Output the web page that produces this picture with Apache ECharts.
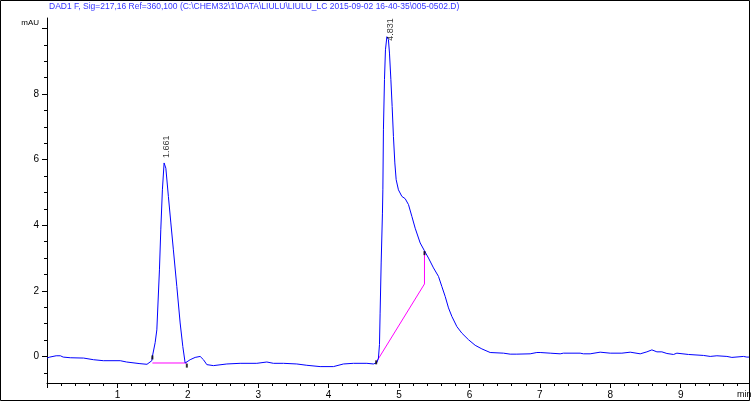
<!DOCTYPE html>
<html>
<head>
<meta charset="UTF-8">
<title>DAD1 F chromatogram</title>
<script src="https://cdn.jsdelivr.net/npm/echarts@6/dist/echarts.min.js"></script>
<style>
    html, body { margin: 0; padding: 0; background: #fff; }
    #main { width: 751px; height: 402px; }
</style>
</head>
<body>
<div id="main"></div>
<script>
// retention time (min) and detector signal (mAU)
var traceTime = [0.00,0.04,0.13,0.19,0.23,0.33,0.52,0.66,0.80,1.04,
    1.13,1.32,1.42,1.489,1.497,1.536,1.560,1.597,1.616,1.639,
    1.663,1.688,1.724,1.759,1.795,1.844,1.891,1.929,1.962,1.986,
    2.033,2.104,2.175,2.222,2.270,2.364,2.554,2.743,2.980,3.122,
    3.216,3.358,3.548,3.690,3.879,4.068,4.210,4.352,4.543,4.636,
    4.685,4.707,4.722,4.731,4.746,4.764,4.770,4.778,4.793,4.807,
    4.827,4.849,4.864,4.884,4.902,4.920,4.940,4.959,4.991,5.040,
    5.087,5.134,5.182,5.229,5.300,5.361,5.418,5.489,5.560,5.608,
    5.655,5.702,5.750,5.821,5.892,5.986,6.081,6.176,6.294,6.483,
    6.578,6.673,6.862,6.957,7.004,7.146,7.288,7.335,7.572,7.619,
    7.714,7.856,7.999,8.165,8.283,8.425,8.520,8.591,8.662,8.733,
    8.804,8.898,8.946,9.111,9.324,9.419,9.514,9.656,9.727,9.892,
    9.940,9.973];
var traceSignal = [-0.05,-0.02,0.02,0.02,-0.02,-0.04,-0.05,-0.10,-0.13,-0.13,
    -0.17,-0.22,-0.24,-0.13,0.00,0.42,0.81,2.64,3.86,5.08,
    5.90,5.74,4.88,4.07,3.25,2.13,1.02,0.30,-0.20,-0.25,
    -0.10,-0.03,0.00,-0.10,-0.25,-0.28,-0.23,-0.21,-0.21,-0.17,
    -0.21,-0.21,-0.23,-0.27,-0.31,-0.31,-0.23,-0.21,-0.21,-0.23,
    -0.19,-0.05,0.36,1.32,2.85,4.37,5.08,6.91,8.44,9.35,
    9.75,9.66,9.25,8.44,7.62,6.71,5.90,5.39,5.08,4.88,
    4.81,4.63,4.27,3.91,3.46,3.22,3.00,2.70,2.44,2.13,
    1.83,1.48,1.22,0.91,0.71,0.51,0.34,0.23,0.12,0.10,
    0.07,0.07,0.08,0.12,0.12,0.10,0.08,0.10,0.10,0.08,
    0.08,0.13,0.10,0.10,0.13,0.08,0.14,0.20,0.14,0.14,
    0.09,0.06,0.10,0.06,0.03,0.00,0.02,0.00,-0.03,0.00,
    -0.02,-0.02];

// integration baselines (magenta)
var base1Time = [1.497, 1.986];
var base1Signal = [-0.20, -0.20];
var base2Time = [4.675, 5.361, 5.361];
var base2Signal = [-0.18, 2.21, 3.22];

// peak start/end marks
var markTime = [1.497, 1.986, 4.675, 5.361];
var markSignal = [-0.03, -0.28, -0.18, 3.15];

// peak apex labels
var peakTime = [1.661, 4.831];
var peakSignal = [5.90, 9.75];
var peakLabels = ['1.661', '4.831'];

var title = 'DAD1 F, Sig=217,16 Ref=360,100 (C:\\CHEM32\\1\\DATA\\LIULU\\LIULU_LC 2015-09-02 16-40-35\\005-0502.D)';

var xMajor = [0, 1, 2, 3, 4, 5, 6, 7, 8, 9];
var xLabels = [1, 2, 3, 4, 5, 6, 7, 8, 9];
var yMajor = [0, 2, 4, 6, 8, 10];
var yLabels = [0, 2, 4, 6, 8];
var xMinor = [];
for (var i = 1; i < 50; i++) { if (i % 5) xMinor.push(i / 5); }
var yMinor = [-0.5, 0.5, 1, 1.5, 2.5, 3, 3.5, 4.5, 5, 5.5, 6.5, 7, 7.5, 8.5, 9, 9.5];

var xMin = 0, xMax = 9.97;
var yMin = -0.81, yMax = 10.32;

function pairs(a, b) { return a.map(function (t, i) { return [t, b[i]]; }); }

var font = 'Liberation Sans, Arial, sans-serif';
var myChart = echarts.init(document.getElementById('main'), null, { renderer: 'canvas' });

var xCommon = { type: 'value', min: xMin, max: xMax, position: 'bottom', splitLine: { show: false } };
var yCommon = { type: 'value', min: yMin, max: yMax, position: 'left', splitLine: { show: false } };

var option = {
    animation: false,
    grid: { left: 47, right: 2, top: 18, bottom: 19 },
    xAxis: [
        Object.assign({}, xCommon, {
            axisLine: { onZero: false, lineStyle: { color: '#000', width: 1 } },
            axisTick: { length: 5, lineStyle: { color: '#000' }, customValues: xMajor },
            axisLabel: { customValues: xLabels, color: '#000', fontSize: 10, fontFamily: font, margin: 7 }
        }),
        Object.assign({}, xCommon, {
            axisLine: { show: false, onZero: false },
            axisTick: { length: 3, lineStyle: { color: '#000' }, customValues: xMinor },
            axisLabel: { show: false }
        })
    ],
    yAxis: [
        Object.assign({}, yCommon, {
            axisLine: { show: true, onZero: false, lineStyle: { color: '#000', width: 1 } },
            axisTick: { show: true, length: 5, lineStyle: { color: '#000' }, customValues: yMajor },
            axisLabel: { customValues: yLabels, color: '#000', fontSize: 10, fontFamily: font, margin: 8 }
        }),
        Object.assign({}, yCommon, {
            axisLine: { show: false, onZero: false },
            axisTick: { show: true, length: 3, lineStyle: { color: '#000' }, customValues: yMinor },
            axisLabel: { show: false }
        })
    ],
    graphic: [
        {
            type: 'rect', silent: true, z: 100,
            shape: { x: 0.5, y: 0.5, width: 749, height: 400 },
            style: { fill: 'none', stroke: '#000', lineWidth: 1 }
        },
        {
            type: 'text', x: 49, y: 7,
            style: { text: title, fill: '#3333ff', font: '8.5px ' + font, verticalAlign: 'middle' }
        },
        {
            type: 'text', x: 39, y: 23,
            style: { text: 'mAU', fill: '#000', font: '8px ' + font, align: 'right', verticalAlign: 'middle' }
        },
        {
            type: 'text', x: 737, y: 395,
            style: { text: 'min', fill: '#000', font: '9px ' + font, verticalAlign: 'middle' }
        }
    ],
    series: [
        {
            name: 'DAD1 F',
            type: 'line',
            data: pairs(traceTime, traceSignal),
            showSymbol: false,
            lineStyle: { color: '#0000ff', width: 1 },
            itemStyle: { color: '#0000ff' },
            z: 3
        },
        {
            name: 'baseline 1',
            type: 'line',
            data: pairs(base1Time, base1Signal),
            showSymbol: false,
            lineStyle: { color: '#ff00ff', width: 1 },
            z: 2
        },
        {
            name: 'baseline 2',
            type: 'line',
            data: pairs(base2Time, base2Signal),
            showSymbol: false,
            lineStyle: { color: '#ff00ff', width: 1 },
            z: 2
        },
        {
            name: 'marks',
            type: 'scatter',
            data: pairs(markTime, markSignal),
            symbol: 'rect',
            symbolSize: [2, 4],
            itemStyle: { color: '#000' },
            z: 4
        },
        {
            name: 'peaks',
            type: 'scatter',
            data: peakTime.map(function (t, i) {
                return {
                    value: [t, peakSignal[i]],
                    // offset is in the rotated frame: [along text (up), across (right)]
                    label: { offset: i === 0 ? [5, 3] : [-4, 3] }
                };
            }),
            symbolSize: 0,
            label: {
                show: true,
                position: 'inside',
                rotate: 90,
                align: 'left',
                verticalAlign: 'middle',
                color: '#000',
                fontSize: 9,
                fontFamily: font,
                formatter: function (p) { return peakLabels[p.dataIndex]; }
            },
            z: 5
        }
    ]
};

myChart.setOption(option);
</script>
</body>
</html>
